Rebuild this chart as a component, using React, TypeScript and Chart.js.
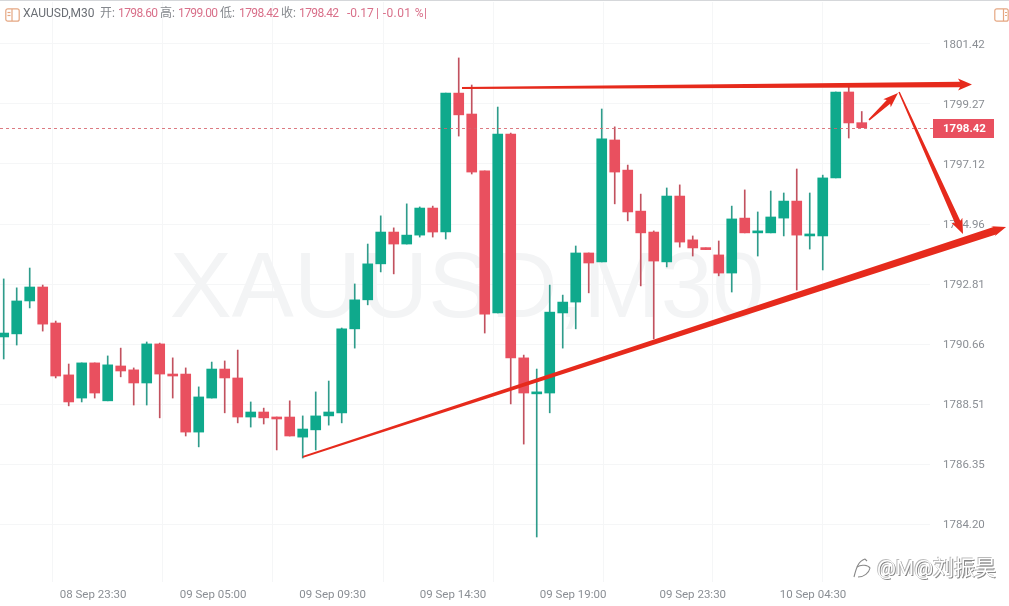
import React, { useEffect, useRef } from "react";
import { Chart, registerables } from "chart.js";

Chart.register(...registerables);

const SYMBOL = "XAUUSD,M30";
const LAST_PRICE = 1798.42;
const PRICE_TICKS = [1801.42, 1799.27, 1797.12, 1794.96, 1792.81, 1790.66, 1788.51, 1786.35, 1784.2];
const TIME_LABELS = ["08 Sep 23:30", "09 Sep 05:00", "09 Sep 09:30", "09 Sep 14:30", "09 Sep 19:00", "09 Sep 23:30", "10 Sep 04:30"];
const TIME_LABEL_AT = [6.87, 16.1, 25.3, 34.56, 43.8, 53.0, 62.25];
const TIME_GRID_AT = [3.72, 12.25, 20.65, 29.2, 37.65, 46.1, 54.55, 63.0];

const opens = [1790.92,1791.03,1792.21,1792.71,1791.42,1789.56,1788.73,1789.99,1788.63,1789.88,1789.74,1789.27,1790.67,1789.59,1789.59,1787.51,1788.73,1789.77,1789.45,1788.05,1788.23,1788.05,1788.05,1787.33,1787.59,1788.09,1788.2,1791.21,1792.25,1793.54,1794.68,1794.25,1794.57,1795.54,1794.68,1799.66,1798.91,1796.87,1791.78,1798.19,1790.17,1788.88,1788.91,1791.78,1792.17,1793.93,1793.61,1797.98,1796.9,1795.43,1794.68,1793.61,1795.97,1794.4,1794.11,1793.86,1793.21,1795.18,1794.65,1794.65,1795.18,1795.79,1794.54,1794.54,1796.62,1799.7,1798.6];
const highs = [1793.0,1792.68,1793.39,1792.78,1791.49,1789.95,1789.99,1789.99,1790.24,1790.52,1789.81,1790.74,1790.7,1790.17,1789.81,1789.13,1790.02,1790.06,1790.45,1788.59,1788.37,1788.05,1788.63,1788.09,1788.95,1789.34,1791.24,1792.82,1794.25,1795.26,1794.83,1795.69,1795.58,1795.61,1799.66,1800.92,1799.95,1796.87,1799.16,1798.23,1790.27,1789.77,1792.78,1792.42,1794.18,1793.93,1799.09,1798.45,1797.08,1796.04,1794.72,1796.26,1796.37,1794.54,1794.11,1794.36,1795.61,1796.19,1795.4,1796.15,1796.08,1796.94,1796.08,1796.72,1799.7,1799.88,1799.0];
const lows = [1790.13,1790.63,1791.96,1791.13,1789.45,1788.45,1788.59,1788.73,1788.63,1789.49,1788.48,1788.48,1788.02,1788.73,1787.37,1786.98,1788.73,1788.2,1787.84,1787.69,1787.8,1786.87,1787.37,1786.58,1786.87,1787.76,1787.84,1790.52,1792.07,1793.25,1793.18,1794.25,1794.5,1794.5,1794.43,1798.12,1796.76,1791.06,1791.78,1788.52,1787.08,1783.75,1788.2,1790.52,1791.21,1792.5,1793.61,1795.69,1795.08,1792.75,1790.85,1793.43,1794.14,1793.82,1794.05,1793.11,1792.53,1794.65,1793.82,1794.65,1794.54,1792.6,1794.07,1793.32,1796.62,1798.05,1798.42];
const closes = [1791.06,1792.21,1792.71,1791.38,1789.52,1788.59,1789.99,1788.91,1789.92,1789.7,1789.27,1790.67,1789.59,1789.52,1787.51,1788.77,1789.77,1789.45,1788.05,1788.23,1788.02,1787.98,1787.37,1787.62,1788.09,1788.23,1791.21,1792.25,1793.54,1794.68,1794.25,1794.57,1795.54,1794.68,1799.66,1798.88,1796.83,1791.74,1798.19,1790.17,1788.91,1788.95,1791.81,1792.17,1793.93,1793.57,1798.02,1796.83,1795.4,1794.65,1793.64,1795.97,1794.32,1794.11,1794.05,1793.21,1795.15,1794.65,1794.68,1795.22,1795.79,1794.57,1794.57,1796.62,1799.7,1798.59,1798.42];

// Hand-drawn arrows, as [bar index, price] end points.
const arrowStarts = [[35.25, 1799.84], [23.02, 1786.62], [66.56, 1798.7], [68.87, 1799.7]];
const arrowTips = [[74.48, 1799.97], [77.1, 1794.86], [68.79, 1799.66], [73.79, 1794.61]];

const GREEN = "#0fa98c";
const RED = "#e9505f";
const GREEN_WICK = "#2f9c8b";
const RED_WICK = "#c2525f";
const ARROW = "#e62a1c";
const ARROW_SHAPES = [
  { tail: 2, neck: 5.5, head: 12, len: 12 },
  { tail: 2, neck: 8, head: 11, len: 12 },
  { tail: 1.5, neck: 5, head: 11, len: 13 },
  { tail: 1.5, neck: 6, head: 12, len: 13 },
];

const overlay = {
  id: "overlay",
  beforeDatasetsDraw(chart: any) {
    const { ctx } = chart;
    ctx.save();
    ctx.fillStyle = "#f3f4f5";
    ctx.font = "93px 'Liberation Sans'";
    ctx.textAlign = "center";
    ctx.textBaseline = "middle";
    ctx.fillText(SYMBOL, 467, 291);
    ctx.restore();
  },
  afterDatasetsDraw(chart: any) {
    const { ctx, chartArea: a, scales } = chart;
    const { x, y } = scales;
    const py = Math.round(y.getPixelForValue(LAST_PRICE)) + 0.5;
    ctx.save();
    ctx.strokeStyle = "rgba(214,100,108,0.85)";
    ctx.setLineDash([3, 3]);
    ctx.lineWidth = 1;
    ctx.beginPath();
    ctx.moveTo(a.left, py);
    ctx.lineTo(a.right + 3, py);
    ctx.stroke();
    ctx.setLineDash([]);
    ctx.fillStyle = RED;
    ctx.fillRect(933, py - 9.5, 61, 19);
    ctx.fillStyle = "#fff";
    ctx.font = "bold 11.5px Roboto";
    ctx.textBaseline = "middle";
    ctx.textAlign = "left";
    ctx.fillText(LAST_PRICE.toFixed(2), 943, py + 0.5);
    arrowStarts.forEach((s, i) => {
      const sx = x.getPixelForValue(s[0]);
      const sy = y.getPixelForValue(s[1]);
      const tx = x.getPixelForValue(arrowTips[i][0]);
      const ty = y.getPixelForValue(arrowTips[i][1]);
      const shape = ARROW_SHAPES[i];
      const L = Math.hypot(tx - sx, ty - sy);
      const ux = (tx - sx) / L;
      const uy = (ty - sy) / L;
      const nx = -uy;
      const ny = ux;
      const bx = tx - ux * shape.len;
      const by = ty - uy * shape.len;
      ctx.fillStyle = ARROW;
      ctx.beginPath();
      ctx.moveTo(sx + (nx * shape.tail) / 2, sy + (ny * shape.tail) / 2);
      ctx.lineTo(bx + (nx * shape.neck) / 2, by + (ny * shape.neck) / 2);
      ctx.lineTo(bx + (nx * shape.head) / 2 - ux * 2, by + (ny * shape.head) / 2 - uy * 2);
      ctx.lineTo(tx, ty);
      ctx.lineTo(bx - (nx * shape.head) / 2 - ux * 2, by - (ny * shape.head) / 2 - uy * 2);
      ctx.lineTo(bx - (nx * shape.neck) / 2, by - (ny * shape.neck) / 2);
      ctx.lineTo(sx - (nx * shape.tail) / 2, sy - (ny * shape.tail) / 2);
      ctx.closePath();
      ctx.fill();
    });
    ctx.restore();
  },
};

const PANEL_ICON = (
  <svg width="15" height="14" viewBox="0 0 15 14" fill="none" stroke="#e5a782" strokeWidth="1.2">
    <rect x="0.8" y="0.8" width="13.4" height="12.4" rx="2" />
    <line x1="9.5" y1="1" x2="9.5" y2="13" />
    <line x1="11" y1="4.5" x2="13" y2="4.5" />
    <line x1="11" y1="7.5" x2="13" y2="7.5" />
  </svg>
);

const LEFT_ICON = (
  <svg width="15" height="14" viewBox="0 0 15 14" fill="none" stroke="#e5a782" strokeWidth="1.2">
    <rect x="0.8" y="0.8" width="13.4" height="12.4" rx="2" />
    <line x1="7" y1="1" x2="7" y2="13" />
    <line x1="2.5" y1="4.5" x2="5.5" y2="4.5" />
    <line x1="2.5" y1="7.5" x2="5.5" y2="7.5" />
  </svg>
);

const SWIRL_ICON = (
  <svg width="20" height="22" viewBox="0 0 20 22" fill="none" stroke="#888" strokeWidth="1.1">
    <path d="M2 20 C4 12 6 4 13 2 L15 4" />
    <path d="M5 10 C9 7 16 8 18 11 C17 16 12 20 6 20" />
  </svg>
);

const HEADER_BITS: [string, number, string, number][] = [
  [SYMBOL, 23, "#6b6f75", 0],
  ["开:", 100, "#85888d", 0],
  ["1798.60", 118, "#d9708a", -0.6],
  ["高:", 160, "#85888d", 0],
  ["1799.00", 178, "#d9708a", -0.6],
  ["低:", 220, "#85888d", 0],
  ["1798.42", 239, "#d9708a", -0.6],
  ["收:", 281, "#85888d", 0],
  ["1798.42", 299, "#d9708a", -0.6],
  ["-0.17", 347, "#d9708a", 0],
  ["| -0.01 %|", 376, "#d9708a", 0.4],
];

export default function App() {
  const ref = useRef<HTMLCanvasElement>(null);
  useEffect(() => {
    document.body.style.margin = "0";
    document.body.style.background = "#fff";
    const idx = opens.map((_, i) => i);
    const isUp = idx.map((i) => closes[i] >= opens[i]);
    const labelAt = new Map(TIME_LABEL_AT.map((v, i) => [v, TIME_LABELS[i]]));
    const chart = new Chart(ref.current as HTMLCanvasElement, {
      type: "bar",
      data: {
        datasets: [
          {
            label: "wick",
            data: idx.map((i) => ({ x: i, y: [lows[i], highs[i]] })) as any,
            backgroundColor: idx.map((i) => (isUp[i] ? GREEN_WICK : RED_WICK)),
            barThickness: 1,
            grouped: false,
            order: 2,
          },
          {
            label: "body",
            data: idx.map((i) => ({ x: i, y: [opens[i], closes[i]] })) as any,
            backgroundColor: idx.map((i) => (isUp[i] ? GREEN : RED)),
            barThickness: 10,
            minBarLength: 2,
            grouped: false,
            order: 1,
          },
        ],
      },
      options: {
        animation: false,
        responsive: false,
        layout: { padding: { top: 2, left: 0, right: 0, bottom: 0 } },
        plugins: { legend: { display: false }, tooltip: { enabled: false } },
        scales: {
          x: {
            type: "linear",
            min: -0.285,
            max: 71.25,
            offset: false,
            border: { display: false },
            grid: {
              offset: false,
              drawTicks: false,
              color: (c: any) => (c.tick && labelAt.has(c.tick.value) ? "rgba(0,0,0,0)" : "#f5f6f7"),
            },
            afterBuildTicks: (axis: any) => {
              axis.ticks = [...TIME_GRID_AT, ...TIME_LABEL_AT].sort((p, q) => p - q).map((value) => ({ value }));
            },
            afterFit: (axis: any) => {
              axis.height = 24;
              axis.paddingLeft = 0;
              axis.paddingRight = 0;
            },
            ticks: {
              autoSkip: false,
              maxRotation: 0,
              padding: 6,
              color: "#8a8e94",
              font: { family: "Roboto", size: 11.5 },
              callback: (v: any) => labelAt.get(v) ?? "",
            },
          },
          y: {
            type: "linear",
            position: "right",
            min: 1782.137,
            max: 1802.925,
            border: { display: false },
            grid: { drawTicks: false, color: "#f5f6f7" },
            afterBuildTicks: (axis: any) => {
              axis.ticks = PRICE_TICKS.map((value) => ({ value }));
            },
            afterFit: (axis: any) => {
              axis.width = 79;
              axis.paddingTop = 0;
              axis.paddingBottom = 0;
            },
            ticks: {
              padding: 13,
              labelOffset: 1,
              crossAlign: "near",
              color: "#8a8e94",
              font: { family: "Roboto", size: 11.5 },
              callback: (v: any) => Number(v).toFixed(2),
            },
          },
        },
      },
      plugins: [overlay],
    } as any);
    return () => chart.destroy();
  }, []);
  return (
    <div style={{ position: "relative", width: 1009, height: 606, overflow: "hidden", background: "#fff", fontFamily: "Roboto, 'Noto Sans CJK SC', sans-serif" }}>
      <canvas ref={ref} width={1009} height={606} style={{ display: "block" }} />
      <div style={{ position: "absolute", left: 0, top: 0, width: 1009, height: 1, background: "#d5d7da" }} />
      <div style={{ position: "absolute", left: 5, top: 7 }}>{LEFT_ICON}</div>
      <div style={{ position: "absolute", left: 994, top: 7 }}>{PANEL_ICON}</div>
      {HEADER_BITS.map(([text, left, color, spacing], i) => (
        <span key={i} style={{ position: "absolute", left, top: 6, fontSize: 12, lineHeight: "15px", color, whiteSpace: "pre", letterSpacing: spacing }}>
          {text}
        </span>
      ))}
      <div style={{ position: "absolute", left: 848, top: 552, width: 158, height: 30, background: "rgba(255,255,255,0.85)" }} />
      <div style={{ position: "absolute", left: 852, top: 557 }}>{SWIRL_ICON}</div>
      <div style={{ position: "absolute", left: 877, top: 555, color: "#fff", fontSize: 21, lineHeight: "26px", whiteSpace: "pre", textShadow: "1px 1px 0 #888, -1px -1px 0 #bbb" }}>
        {"@M@刘振昊"}
      </div>
    </div>
  );
}
